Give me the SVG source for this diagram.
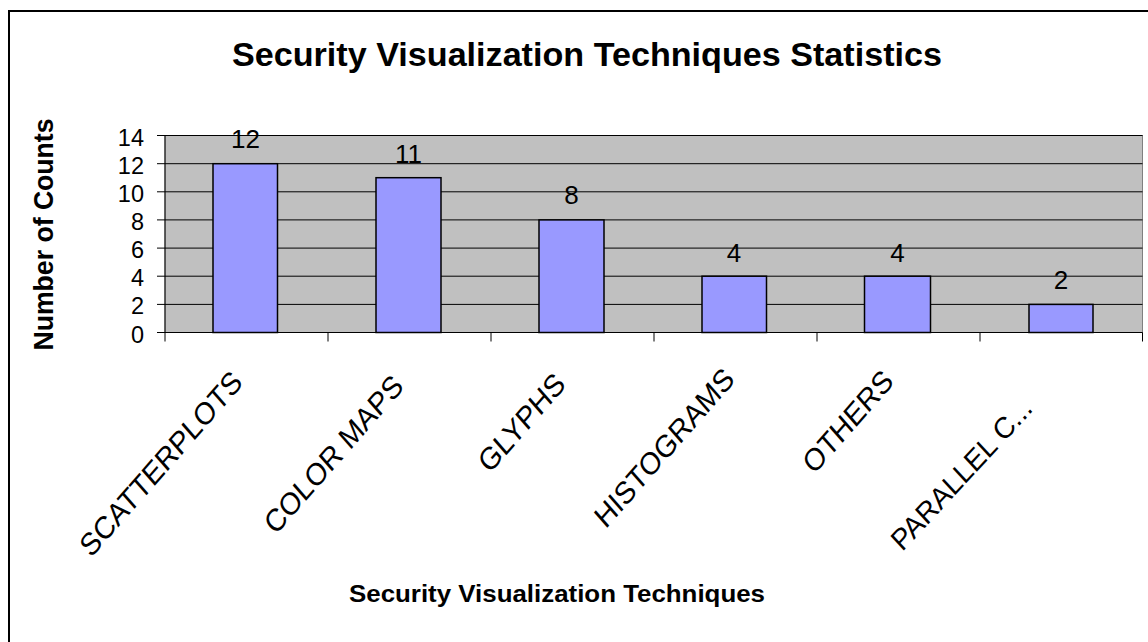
<svg xmlns="http://www.w3.org/2000/svg" width="1148" height="642" viewBox="0 0 1148 642">
<style>
text{font-family:"Liberation Sans",Arial,sans-serif;fill:#000}
.b{font-weight:bold}
.ax{font-size:23.5px;text-anchor:end}
.dl{font-size:26px;text-anchor:middle}
.cat{font-size:27.5px;text-anchor:end}
.grid{stroke:#000;stroke-width:1}
.bar{fill:#9999FF;stroke:#000;stroke-width:1.5}
</style>
<rect x="0" y="0" width="1148" height="642" fill="#fff"/>
<rect x="9" y="11" width="1150" height="640" fill="#fff" stroke="#000" stroke-width="2"/>
<g id="title"><text class="b" x="587" y="66" font-size="33" text-anchor="middle" textLength="710" lengthAdjust="spacingAndGlyphs">Security Visualization Techniques Statistics</text></g>
<g id="plot">
<rect x="165" y="135.5" width="977.5" height="197" fill="#C0C0C0" stroke="#808080" stroke-width="1"/>
<g class="grid">
<line x1="157" y1="135.5" x2="1142.5" y2="135.5"/>
<line x1="157" y1="163.7" x2="1142.5" y2="163.7"/>
<line x1="157" y1="191.8" x2="1142.5" y2="191.8"/>
<line x1="157" y1="219.9" x2="1142.5" y2="219.9"/>
<line x1="157" y1="248.1" x2="1142.5" y2="248.1"/>
<line x1="157" y1="276.2" x2="1142.5" y2="276.2"/>
<line x1="157" y1="304.4" x2="1142.5" y2="304.4"/>
<line x1="157" y1="332.5" x2="1142.5" y2="332.5"/>
<line x1="165" y1="135.5" x2="165" y2="341.5"/>
<line x1="328" y1="332.5" x2="328" y2="341.5"/>
<line x1="491" y1="332.5" x2="491" y2="341.5"/>
<line x1="654" y1="332.5" x2="654" y2="341.5"/>
<line x1="817" y1="332.5" x2="817" y2="341.5"/>
<line x1="980" y1="332.5" x2="980" y2="341.5"/>
<line x1="1142.5" y1="332.5" x2="1142.5" y2="341.5"/>
</g>
<g id="yaxis-labels">
<text class="ax" x="144" y="145.5">14</text>
<text class="ax" x="144" y="173.7">12</text>
<text class="ax" x="144" y="201.8">10</text>
<text class="ax" x="144" y="229.9">8</text>
<text class="ax" x="144" y="258.1">6</text>
<text class="ax" x="144" y="286.2">4</text>
<text class="ax" x="144" y="314.4">2</text>
<text class="ax" x="144" y="342.5">0</text>
</g>
</g>
<g id="bar-scatterplots"><rect class="bar" x="213" y="163.7" width="64.5" height="168.8"/><text class="dl" x="245.5" y="147.7">12</text><text class="cat" transform="translate(244 384) scale(1 1.14) rotate(-45)">SCATTERPLOTS</text></g>
<g id="bar-colormaps"><rect class="bar" x="376" y="177.7" width="65" height="154.8"/><text class="dl" x="408.5" y="162.5">11</text><text class="cat" transform="translate(405 388) scale(1 1.14) rotate(-45)">COLOR MAPS</text></g>
<g id="bar-glyphs"><rect class="bar" x="539" y="219.9" width="65" height="112.6"/><text class="dl" x="571.5" y="204">8</text><text class="cat" transform="translate(567 386) scale(1 1.14) rotate(-45)">GLYPHS</text></g>
<g id="bar-histograms"><rect class="bar" x="702" y="276.2" width="64.5" height="56.3"/><text class="dl" x="734" y="261.5">4</text><text class="cat" transform="translate(736 381) scale(1 1.14) rotate(-45)">HISTOGRAMS</text></g>
<g id="bar-others"><rect class="bar" x="864.5" y="276.2" width="66" height="56.3"/><text class="dl" x="897.5" y="261.5">4</text><text class="cat" transform="translate(895 383) scale(1 1.14) rotate(-45)">OTHERS</text></g>
<g id="bar-parallel"><rect class="bar" x="1029" y="304.4" width="64" height="28.1"/><text class="dl" x="1061" y="288.5">2</text><text class="cat" transform="translate(1034 410) scale(1 1.08) rotate(-45)">PARALLEL C...</text></g>
<g id="axis-titles">
<text class="b" x="557" y="602" font-size="23" text-anchor="middle" textLength="416" lengthAdjust="spacingAndGlyphs">Security Visualization Techniques</text>
<text class="b" x="53" y="234.5" font-size="27" text-anchor="middle" textLength="232" lengthAdjust="spacingAndGlyphs" transform="rotate(-90 53 234.5)">Number of Counts</text>
</g>
</svg>
